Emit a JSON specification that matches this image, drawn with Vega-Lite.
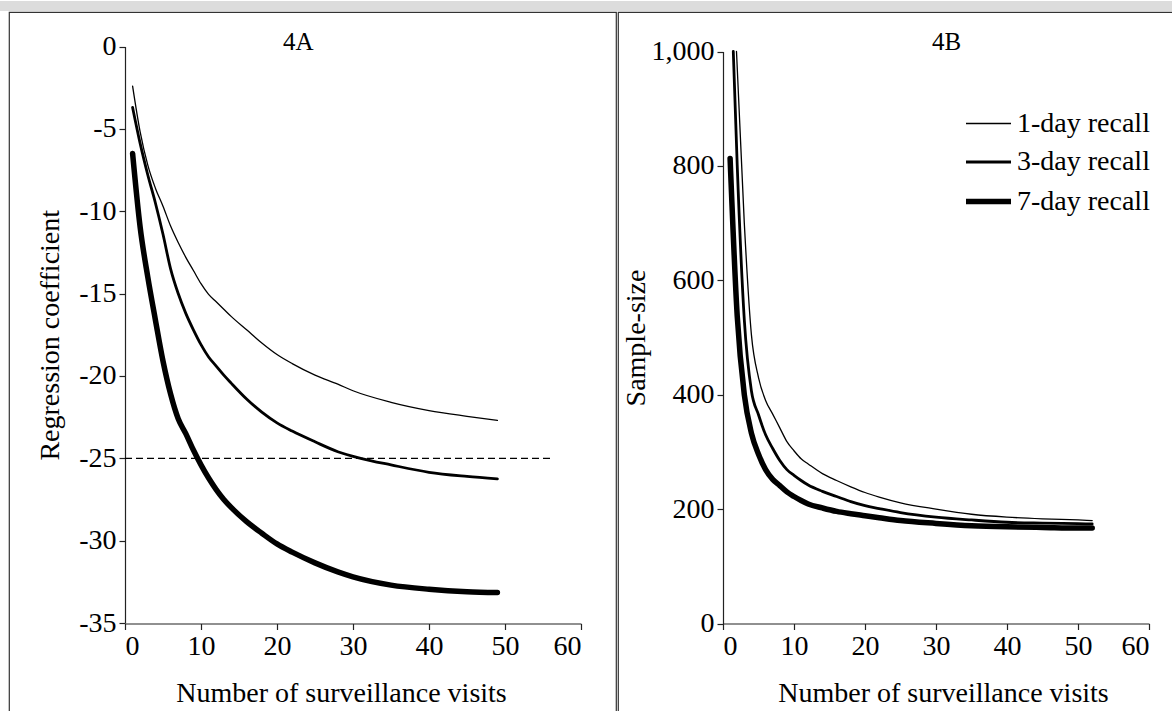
{
  "$schema": "https://vega.github.io/schema/vega-lite/v6.json",
  "padding": 0,
  "background": "white",
  "spacing": 0,
  "config": {
    "font": "Liberation Serif",
    "view": {"stroke": null},
    "axis": {
      "grid": false,
      "labelFont": "Liberation Serif",
      "labelFontSize": 28,
      "labelColor": "black",
      "labelPadding": 3,
      "titleFont": "Liberation Serif",
      "titleFontSize": 28,
      "titleFontWeight": "normal",
      "titleColor": "black",
      "domainColor": "#222222",
      "tickColor": "#222222",
      "tickSize": 6,
      "domainWidth": 1.2,
      "tickWidth": 1.2
    },
    "legend": {"labelFont": "Liberation Serif"}
  },
  "datasets": {
    "coef": [
      {"recall": "1-day recall", "visits": 1, "coefficient": -2.4},
      {"recall": "1-day recall", "visits": 2, "coefficient": -5.2},
      {"recall": "1-day recall", "visits": 3, "coefficient": -7.2},
      {"recall": "1-day recall", "visits": 4, "coefficient": -8.6},
      {"recall": "1-day recall", "visits": 5, "coefficient": -9.7},
      {"recall": "1-day recall", "visits": 6, "coefficient": -10.9},
      {"recall": "1-day recall", "visits": 7, "coefficient": -11.9},
      {"recall": "1-day recall", "visits": 8, "coefficient": -12.8},
      {"recall": "1-day recall", "visits": 9, "coefficient": -13.6},
      {"recall": "1-day recall", "visits": 10, "coefficient": -14.4},
      {"recall": "1-day recall", "visits": 11, "coefficient": -15.05},
      {"recall": "1-day recall", "visits": 12, "coefficient": -15.5},
      {"recall": "1-day recall", "visits": 13, "coefficient": -15.95},
      {"recall": "1-day recall", "visits": 14, "coefficient": -16.4},
      {"recall": "1-day recall", "visits": 16, "coefficient": -17.2},
      {"recall": "1-day recall", "visits": 18, "coefficient": -18.0},
      {"recall": "1-day recall", "visits": 20, "coefficient": -18.7},
      {"recall": "1-day recall", "visits": 22, "coefficient": -19.25},
      {"recall": "1-day recall", "visits": 25, "coefficient": -19.95},
      {"recall": "1-day recall", "visits": 28, "coefficient": -20.5},
      {"recall": "1-day recall", "visits": 30, "coefficient": -20.9},
      {"recall": "1-day recall", "visits": 35, "coefficient": -21.6},
      {"recall": "1-day recall", "visits": 40, "coefficient": -22.1},
      {"recall": "1-day recall", "visits": 45, "coefficient": -22.45},
      {"recall": "1-day recall", "visits": 49, "coefficient": -22.7},
      {"recall": "3-day recall", "visits": 1, "coefficient": -3.7},
      {"recall": "3-day recall", "visits": 2, "coefficient": -5.9},
      {"recall": "3-day recall", "visits": 3, "coefficient": -7.8},
      {"recall": "3-day recall", "visits": 4, "coefficient": -9.5},
      {"recall": "3-day recall", "visits": 5, "coefficient": -11.4},
      {"recall": "3-day recall", "visits": 6, "coefficient": -13.5},
      {"recall": "3-day recall", "visits": 7, "coefficient": -15.0},
      {"recall": "3-day recall", "visits": 8, "coefficient": -16.2},
      {"recall": "3-day recall", "visits": 9, "coefficient": -17.2},
      {"recall": "3-day recall", "visits": 10, "coefficient": -18.1},
      {"recall": "3-day recall", "visits": 11, "coefficient": -18.85},
      {"recall": "3-day recall", "visits": 12, "coefficient": -19.4},
      {"recall": "3-day recall", "visits": 13, "coefficient": -19.95},
      {"recall": "3-day recall", "visits": 14, "coefficient": -20.45},
      {"recall": "3-day recall", "visits": 16, "coefficient": -21.4},
      {"recall": "3-day recall", "visits": 18, "coefficient": -22.2},
      {"recall": "3-day recall", "visits": 20, "coefficient": -22.85},
      {"recall": "3-day recall", "visits": 22, "coefficient": -23.35},
      {"recall": "3-day recall", "visits": 25, "coefficient": -24.0},
      {"recall": "3-day recall", "visits": 28, "coefficient": -24.6},
      {"recall": "3-day recall", "visits": 31, "coefficient": -25.0},
      {"recall": "3-day recall", "visits": 35, "coefficient": -25.4},
      {"recall": "3-day recall", "visits": 40, "coefficient": -25.85},
      {"recall": "3-day recall", "visits": 45, "coefficient": -26.1},
      {"recall": "3-day recall", "visits": 49, "coefficient": -26.25},
      {"recall": "7-day recall", "visits": 1, "coefficient": -6.5},
      {"recall": "7-day recall", "visits": 2, "coefficient": -11.0},
      {"recall": "7-day recall", "visits": 3, "coefficient": -14.0},
      {"recall": "7-day recall", "visits": 4, "coefficient": -16.6},
      {"recall": "7-day recall", "visits": 5, "coefficient": -19.1},
      {"recall": "7-day recall", "visits": 6, "coefficient": -21.1},
      {"recall": "7-day recall", "visits": 7, "coefficient": -22.6},
      {"recall": "7-day recall", "visits": 8, "coefficient": -23.5},
      {"recall": "7-day recall", "visits": 9, "coefficient": -24.5},
      {"recall": "7-day recall", "visits": 10, "coefficient": -25.4},
      {"recall": "7-day recall", "visits": 11, "coefficient": -26.2},
      {"recall": "7-day recall", "visits": 12, "coefficient": -26.9},
      {"recall": "7-day recall", "visits": 13, "coefficient": -27.5},
      {"recall": "7-day recall", "visits": 14, "coefficient": -28.0},
      {"recall": "7-day recall", "visits": 16, "coefficient": -28.85},
      {"recall": "7-day recall", "visits": 18, "coefficient": -29.55},
      {"recall": "7-day recall", "visits": 20, "coefficient": -30.2},
      {"recall": "7-day recall", "visits": 22, "coefficient": -30.7},
      {"recall": "7-day recall", "visits": 25, "coefficient": -31.35},
      {"recall": "7-day recall", "visits": 28, "coefficient": -31.9},
      {"recall": "7-day recall", "visits": 30, "coefficient": -32.2},
      {"recall": "7-day recall", "visits": 35, "coefficient": -32.7},
      {"recall": "7-day recall", "visits": 40, "coefficient": -32.95},
      {"recall": "7-day recall", "visits": 45, "coefficient": -33.1},
      {"recall": "7-day recall", "visits": 49, "coefficient": -33.15}
    ],
    "size": [
      {"recall": "1-day recall", "visits": 1.9, "samplesize": 1000},
      {"recall": "1-day recall", "visits": 3, "samplesize": 700},
      {"recall": "1-day recall", "visits": 4, "samplesize": 505},
      {"recall": "1-day recall", "visits": 5, "samplesize": 430},
      {"recall": "1-day recall", "visits": 6, "samplesize": 390},
      {"recall": "1-day recall", "visits": 7, "samplesize": 366},
      {"recall": "1-day recall", "visits": 8, "samplesize": 342},
      {"recall": "1-day recall", "visits": 9, "samplesize": 318},
      {"recall": "1-day recall", "visits": 10, "samplesize": 302},
      {"recall": "1-day recall", "visits": 11, "samplesize": 288},
      {"recall": "1-day recall", "visits": 12, "samplesize": 279},
      {"recall": "1-day recall", "visits": 14, "samplesize": 262},
      {"recall": "1-day recall", "visits": 16, "samplesize": 250},
      {"recall": "1-day recall", "visits": 18, "samplesize": 239},
      {"recall": "1-day recall", "visits": 20, "samplesize": 229},
      {"recall": "1-day recall", "visits": 22, "samplesize": 221},
      {"recall": "1-day recall", "visits": 25, "samplesize": 211},
      {"recall": "1-day recall", "visits": 30, "samplesize": 200},
      {"recall": "1-day recall", "visits": 35, "samplesize": 191},
      {"recall": "1-day recall", "visits": 40, "samplesize": 186},
      {"recall": "1-day recall", "visits": 45, "samplesize": 183},
      {"recall": "1-day recall", "visits": 50, "samplesize": 181},
      {"recall": "1-day recall", "visits": 52, "samplesize": 180},
      {"recall": "3-day recall", "visits": 1.45, "samplesize": 1000},
      {"recall": "3-day recall", "visits": 2, "samplesize": 802},
      {"recall": "3-day recall", "visits": 3, "samplesize": 531},
      {"recall": "3-day recall", "visits": 4, "samplesize": 407},
      {"recall": "3-day recall", "visits": 5, "samplesize": 365},
      {"recall": "3-day recall", "visits": 6, "samplesize": 330},
      {"recall": "3-day recall", "visits": 7, "samplesize": 306},
      {"recall": "3-day recall", "visits": 8, "samplesize": 285},
      {"recall": "3-day recall", "visits": 9, "samplesize": 269},
      {"recall": "3-day recall", "visits": 10, "samplesize": 259},
      {"recall": "3-day recall", "visits": 11, "samplesize": 250},
      {"recall": "3-day recall", "visits": 12, "samplesize": 242},
      {"recall": "3-day recall", "visits": 14, "samplesize": 231},
      {"recall": "3-day recall", "visits": 16, "samplesize": 222},
      {"recall": "3-day recall", "visits": 18, "samplesize": 213},
      {"recall": "3-day recall", "visits": 20, "samplesize": 206},
      {"recall": "3-day recall", "visits": 22, "samplesize": 201},
      {"recall": "3-day recall", "visits": 25, "samplesize": 194},
      {"recall": "3-day recall", "visits": 30, "samplesize": 186},
      {"recall": "3-day recall", "visits": 35, "samplesize": 181},
      {"recall": "3-day recall", "visits": 40, "samplesize": 177},
      {"recall": "3-day recall", "visits": 45, "samplesize": 175.5},
      {"recall": "3-day recall", "visits": 50, "samplesize": 174.5},
      {"recall": "3-day recall", "visits": 52, "samplesize": 174},
      {"recall": "7-day recall", "visits": 1, "samplesize": 813},
      {"recall": "7-day recall", "visits": 2, "samplesize": 538},
      {"recall": "7-day recall", "visits": 3, "samplesize": 400},
      {"recall": "7-day recall", "visits": 4, "samplesize": 333},
      {"recall": "7-day recall", "visits": 5, "samplesize": 296},
      {"recall": "7-day recall", "visits": 6, "samplesize": 269},
      {"recall": "7-day recall", "visits": 7, "samplesize": 252},
      {"recall": "7-day recall", "visits": 8, "samplesize": 241},
      {"recall": "7-day recall", "visits": 9, "samplesize": 230},
      {"recall": "7-day recall", "visits": 10, "samplesize": 222},
      {"recall": "7-day recall", "visits": 11, "samplesize": 215},
      {"recall": "7-day recall", "visits": 12, "samplesize": 209},
      {"recall": "7-day recall", "visits": 14, "samplesize": 202},
      {"recall": "7-day recall", "visits": 16, "samplesize": 196},
      {"recall": "7-day recall", "visits": 18, "samplesize": 192},
      {"recall": "7-day recall", "visits": 20, "samplesize": 188.5},
      {"recall": "7-day recall", "visits": 22, "samplesize": 185},
      {"recall": "7-day recall", "visits": 25, "samplesize": 180},
      {"recall": "7-day recall", "visits": 30, "samplesize": 175},
      {"recall": "7-day recall", "visits": 35, "samplesize": 171},
      {"recall": "7-day recall", "visits": 40, "samplesize": 169},
      {"recall": "7-day recall", "visits": 45, "samplesize": 168},
      {"recall": "7-day recall", "visits": 50, "samplesize": 167},
      {"recall": "7-day recall", "visits": 52, "samplesize": 167}
    ]
  },
  "vconcat": [
    {
      "width": 1172,
      "height": 10,
      "view": {"fill": "#dcdcdc", "stroke": null},
      "data": {"values": [{"t": ""}]},
      "mark": {"type": "text"},
      "encoding": {"text": {"field": "t"}}
    },
    {
      "spacing": 0,
      "resolve": {
        "scale": {"x": "independent", "y": "independent", "strokeWidth": "independent"},
        "legend": {"strokeWidth": "independent"}
      },
      "hconcat": [
        {
          "width": 8,
          "height": 701,
          "view": {"stroke": null},
          "data": {"values": [{"t": ""}]},
          "mark": {"type": "text"},
          "encoding": {"text": {"field": "t"}}
        },
        {
          "width": 607,
          "height": 701,
          "view": {"stroke": "#333333", "strokeWidth": 1.2, "fill": "white"},
          "layer": [
            {
              "data": {"name": "coef"},
              "mark": {"type": "line", "color": "black", "interpolate": "monotone", "strokeCap": "round", "strokeJoin": "round"},
              "encoding": {
                "x": {
                  "field": "visits", "type": "quantitative",
                  "scale": {"domain": [0, 60], "range": [116, 572], "nice": false, "zero": false},
                  "axis": {"values": [0, 10, 20, 30, 40, 50, 60], "offset": -89.5, "title": "Number of surveillance visits", "titleX": 332, "titlePadding": 19}
                },
                "y": {
                  "field": "coefficient", "type": "quantitative",
                  "scale": {"domain": [-35, 0], "range": [611, 34.5], "nice": false, "zero": false},
                  "axis": {"values": [-35, -30, -25, -20, -15, -10, -5, 0], "labelExpr": "'' + datum.value", "offset": -116, "title": "Regression coefficient", "titlePadding": 14}
                },
                "strokeWidth": {
                  "field": "recall", "type": "ordinal",
                  "scale": {"type": "ordinal", "domain": ["1-day recall", "3-day recall", "7-day recall"], "range": [1.3, 2.8, 5.5]},
                  "legend": null
                }
              }
            },
            {
              "data": {"values": [{"level": -25}]},
              "mark": {"type": "rule", "color": "black", "strokeWidth": 1.3, "strokeDash": [7, 4]},
              "encoding": {
                "x": {"datum": 0, "type": "quantitative"},
                "x2": {"datum": 56},
                "y": {"field": "level", "type": "quantitative"}
              }
            },
            {
              "data": {"values": [{"label": "4A"}]},
              "mark": {"type": "text", "fontSize": 25, "font": "Liberation Serif", "color": "black"},
              "encoding": {
                "x": {"datum": 22.8, "type": "quantitative"},
                "y": {"datum": 0.3, "type": "quantitative"},
                "text": {"field": "label"}
              }
            }
          ]
        },
        {
          "width": 557,
          "height": 701,
          "view": {"stroke": "#333333", "strokeWidth": 1.2, "fill": "white"},
          "layer": [
            {
              "data": {"name": "size"},
              "mark": {"type": "line", "color": "black", "interpolate": "monotone", "strokeCap": "round", "strokeJoin": "round"},
              "encoding": {
                "x": {
                  "field": "visits", "type": "quantitative",
                  "scale": {"domain": [0, 60], "range": [105, 531], "nice": false, "zero": false},
                  "axis": {"values": [0, 10, 20, 30, 40, 50, 60], "offset": -89.5, "title": "Number of surveillance visits", "titleX": 325, "titlePadding": 19}
                },
                "y": {
                  "field": "samplesize", "type": "quantitative",
                  "scale": {"domain": [0, 1000], "range": [611.5, 39.5], "nice": false, "zero": false},
                  "axis": {"values": [0, 200, 400, 600, 800, 1000], "labelExpr": "format(datum.value, ',.0f')", "offset": -105, "title": "Sample-size", "titlePadding": 1}
                },
                "strokeWidth": {
                  "field": "recall", "type": "ordinal",
                  "scale": {"type": "ordinal", "domain": ["1-day recall", "3-day recall", "7-day recall"], "range": [1.3, 2.8, 5.5]},
                  "legend": {
                    "orient": "none", "legendX": 345, "legendY": 88, "title": null,
                    "padding": 0, "labelFontSize": 28, "labelColor": "black", "labelFont": "Liberation Serif",
                    "symbolType": "stroke", "symbolSize": 2025, "symbolStrokeColor": "black",
                    "rowPadding": 0, "labelOffset": 3, "symbolOffset": 0
                  }
                }
              }
            },
            {
              "data": {"values": [{"label": "4B"}]},
              "mark": {"type": "text", "fontSize": 25, "font": "Liberation Serif", "color": "black"},
              "encoding": {
                "x": {"datum": 31.5, "type": "quantitative"},
                "y": {"datum": 1017, "type": "quantitative"},
                "text": {"field": "label"}
              }
            }
          ]
        }
      ]
    }
  ]
}
